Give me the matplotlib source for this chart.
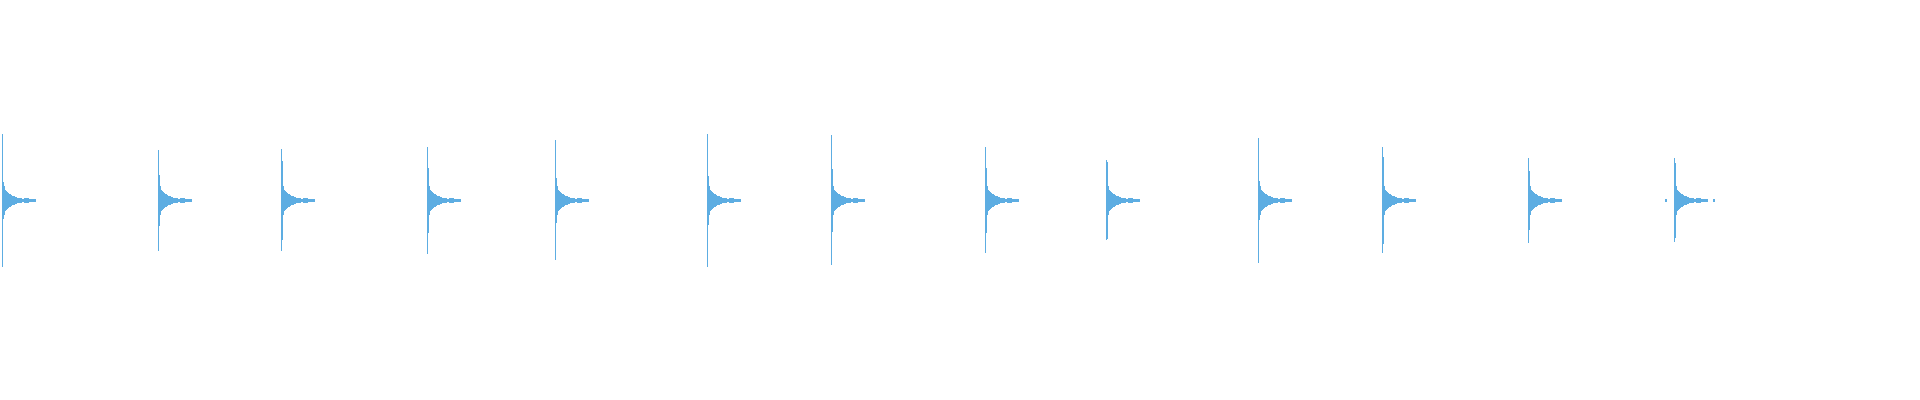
import matplotlib.pyplot as plt
import numpy as np

# onset position of each hit (pixel column of the waveform view)
hit_pos = [1, 157, 280, 426, 554, 706, 830, 984, 1105, 1257, 1381, 1527, 1673]
# main spike, positive and negative peak (full scale = 1)
peak_up = [0.33, 0.25, 0.255, 0.265, 0.30, 0.33, 0.325, 0.265, 0.20, 0.31, 0.265, 0.21, 0.21]
peak_down = [0.33, 0.25, 0.25, 0.265, 0.295, 0.33, 0.32, 0.26, 0.195, 0.31, 0.26, 0.21, 0.205]
# second column right after the spike
second = [0.09, 0.125, 0.195, 0.16, 0.11, 0.12, 0.155, 0.16, 0.19, 0.095, 0.215, 0.145, 0.185]
# decay of the ringing after the first two columns
tail = [0.07, 0.05, 0.045, 0.04, 0.035, 0.03, 0.028, 0.025, 0.022, 0.02, 0.018, 0.015,
        0.015, 0.012, 0.01, 0.01, 0.008, 0.008, 0.005, 0.005, 0.008, 0.008, 0.008,
        0.008, 0.008, 0.005, 0.005, 0.003, 0.003, 0.003, 0.003, 0.003]
# little blips between hits
blip_pos = [1664, 1712]
blip_amp = [0.003, 0.003]

color = '#5DADE2'

fig = plt.figure(figsize=(19.2, 4.0), dpi=100)
ax = fig.add_axes([0, 0, 1, 1])

for x0, up, down, s in zip(hit_pos, peak_up, peak_down, second):
    xs = [x0, x0 + 1] + [x0 + 2 + i for i in range(len(tail))]
    top = [up, s] + tail
    bot = [-down, -s] + [-t for t in tail]
    ax.vlines(np.array(xs) + 0.5, bot, top, color=color, linewidth=0.72, antialiased=False)

for x0, a in zip(blip_pos, blip_amp):
    ax.vlines([x0 + 0.5, x0 + 1.5], -a, a, color=color, linewidth=0.72, antialiased=False)

ax.set_xlim(0, 1920)
ax.set_ylim(-1, 1)
ax.axis('off')

plt.savefig('out.png', dpi=100)
